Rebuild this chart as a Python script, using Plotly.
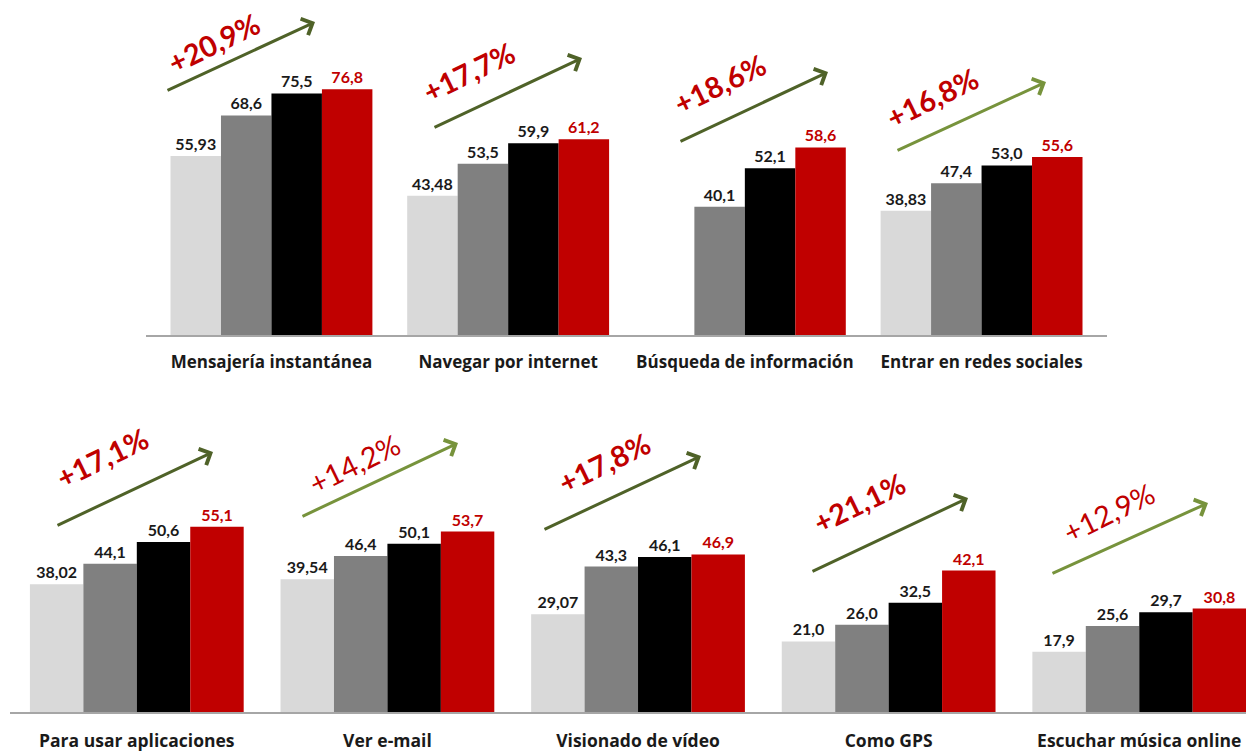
import plotly.graph_objects as go

W, H = 1246, 751

# ---------------- data ----------------
top_categories = ["Mensajería instantánea", "Navegar por internet",
                  "Búsqueda de información", "Entrar en redes sociales"]
top_s1 = [55.93, 43.48, None, 38.83]
top_s2 = [68.6, 53.5, 40.1, 47.4]
top_s3 = [75.5, 59.9, 52.1, 53.0]
top_s4 = [76.8, 61.2, 58.6, 55.6]
top_s1_labels = ["55,93", "43,48", "", "38,83"]
top_s2_labels = ["68,6", "53,5", "40,1", "47,4"]
top_s3_labels = ["75,5", "59,9", "52,1", "53,0"]
top_s4_labels = ["76,8", "61,2", "58,6", "55,6"]
top_growth = ["+20,9%", "+17,7%", "+18,6%", "+16,8%"]

bot_categories = ["Para usar aplicaciones", "Ver e-mail", "Visionado de vídeo",
                  "Como GPS", "Escuchar música online"]
bot_s1 = [38.02, 39.54, 29.07, 21.0, 17.9]
bot_s2 = [44.1, 46.4, 43.3, 26.0, 25.6]
bot_s3 = [50.6, 50.1, 46.1, 32.5, 29.7]
bot_s4 = [55.1, 53.7, 46.9, 42.1, 30.8]
bot_s1_labels = ["38,02", "39,54", "29,07", "21,0", "17,9"]
bot_s2_labels = ["44,1", "46,4", "43,3", "26,0", "25,6"]
bot_s3_labels = ["50,6", "50,1", "46,1", "32,5", "29,7"]
bot_s4_labels = ["55,1", "53,7", "46,9", "42,1", "30,8"]
bot_growth = ["+17,1%", "+14,2%", "+17,8%", "+21,1%", "+12,9%"]

series_names = ["Serie 1", "Serie 2", "Serie 3", "Serie 4"]

# ---------------- style ----------------
bar_colors = ["#d9d9d9", "#808080", "#000000", "#c00000"]
label_colors = ["#1a1a1a", "#1a1a1a", "#1a1a1a", "#c00000"]
FONT = "Lato, 'Open Sans', sans-serif"
CAT_FONT = "'Open Sans', Lato, sans-serif"
RED = "#c00000"
DARK_GREEN = "#4f6228"
LIGHT_GREEN = "#77933c"


def px(x):
    return x / W


def py(y):
    return 1 - y / H


fig = go.Figure()

top_vals = [top_s1, top_s2, top_s3, top_s4]
top_labs = [top_s1_labels, top_s2_labels, top_s3_labels, top_s4_labels]
bot_vals = [bot_s1, bot_s2, bot_s3, bot_s4]
bot_labs = [bot_s1_labels, bot_s2_labels, bot_s3_labels, bot_s4_labels]

for i in range(4):
    fig.add_trace(go.Bar(
        x=top_categories, y=top_vals[i], name=series_names[i],
        marker=dict(color=bar_colors[i], line=dict(width=0)),
        text=top_labs[i], textposition="outside", cliponaxis=False,
        textfont=dict(family=FONT, size=16, color=label_colors[i], weight="bold"),
        xaxis="x", yaxis="y", showlegend=False, hoverinfo="skip"))
for i in range(4):
    fig.add_trace(go.Bar(
        x=bot_categories, y=bot_vals[i], name=series_names[i],
        marker=dict(color=bar_colors[i], line=dict(width=0)),
        text=bot_labs[i], textposition="outside", cliponaxis=False,
        textfont=dict(family=FONT, size=16, color=label_colors[i], weight="bold"),
        xaxis="x2", yaxis="y2", showlegend=False, hoverinfo="skip"))

# axis geometry (pixel based)
top_zero, top_scale = 335, 3.2
bot_zero, bot_scale = 712, 3.36
bot_top_px = 392

fig.update_layout(
    width=W, height=H, margin=dict(l=0, r=0, t=0, b=0),
    paper_bgcolor="white", plot_bgcolor="white",
    barmode="group", bargap=0.147, bargroupgap=0,
    xaxis=dict(domain=[px(146), px(1107)], range=[-0.53, 3.53], anchor="y",
               showline=True, linecolor="#a6a6a6", linewidth=2, showgrid=False,
               ticks="", ticklabelstandoff=11, zeroline=False,
               tickfont=dict(family=CAT_FONT, size=17, color="#1a1a1a", weight="bold")),
    yaxis=dict(domain=[py(top_zero), 1], range=[0, top_zero / top_scale], anchor="x",
               visible=False, showgrid=False, zeroline=False),
    xaxis2=dict(domain=[px(10), 1], range=[-0.506, 4.426], anchor="y2",
                showline=True, linecolor="#a6a6a6", linewidth=2, showgrid=False,
                ticks="", ticklabelstandoff=12, zeroline=False,
                tickfont=dict(family=CAT_FONT, size=17.5, color="#1a1a1a", weight="bold")),
    yaxis2=dict(domain=[py(bot_zero), py(bot_top_px)],
                range=[0, (bot_zero - bot_top_px) / bot_scale], anchor="x2",
                visible=False, showgrid=False, zeroline=False),
)

# growth annotations: text centre px, arrow tail px, arrow head px, colour, bold
top_text_pos = [(214, 43), (469, 72), (720, 84), (932, 97)]
top_arrows = [((166, 91), (315, 22)), ((433, 128), (582, 58)),
              ((679, 142), (828, 72)), ((896, 151), (1046, 82))]
top_arrow_colors = [DARK_GREEN, DARK_GREEN, DARK_GREEN, LIGHT_GREEN]
top_bold = [True, True, True, True]

bot_text_pos = [(102, 457), (354, 464), (604, 462), (859, 502), (1108, 512)]
bot_arrows = [((56, 526), (213, 452)), ((301, 517), (458, 443)),
              ((543, 530), (701, 456)), ((811, 572), (968, 498)),
              ((1051, 574), (1208, 503))]
bot_arrow_colors = [DARK_GREEN, LIGHT_GREEN, DARK_GREEN, DARK_GREEN, LIGHT_GREEN]
bot_bold = [True, False, True, True, False]

annotations = []
for texts, tpos, arrows, cols, bolds in [
        (top_growth, top_text_pos, top_arrows, top_arrow_colors, top_bold),
        (bot_growth, bot_text_pos, bot_arrows, bot_arrow_colors, bot_bold)]:
    for t, (tx, ty), ((x0, y0), (x1, y1)), c, b in zip(texts, tpos, arrows, cols, bolds):
        annotations.append(dict(
            x=px(x1), y=py(y1), xref="paper", yref="paper",
            ax=x0 - x1, ay=y0 - y1, axref="pixel", ayref="pixel",
            text="", showarrow=True, arrowhead=4, arrowsize=1.15,
            arrowwidth=3, arrowcolor=c, standoff=0, startstandoff=0))
        annotations.append(dict(
            x=px(tx), y=py(ty), xref="paper", yref="paper",
            text=t, showarrow=False, textangle=-26,
            xanchor="center", yanchor="middle",
            font=dict(family=FONT, size=29, color=RED,
                      weight="bold" if b else "normal")))

fig.update_layout(annotations=annotations)

fig.write_html("out.html")
